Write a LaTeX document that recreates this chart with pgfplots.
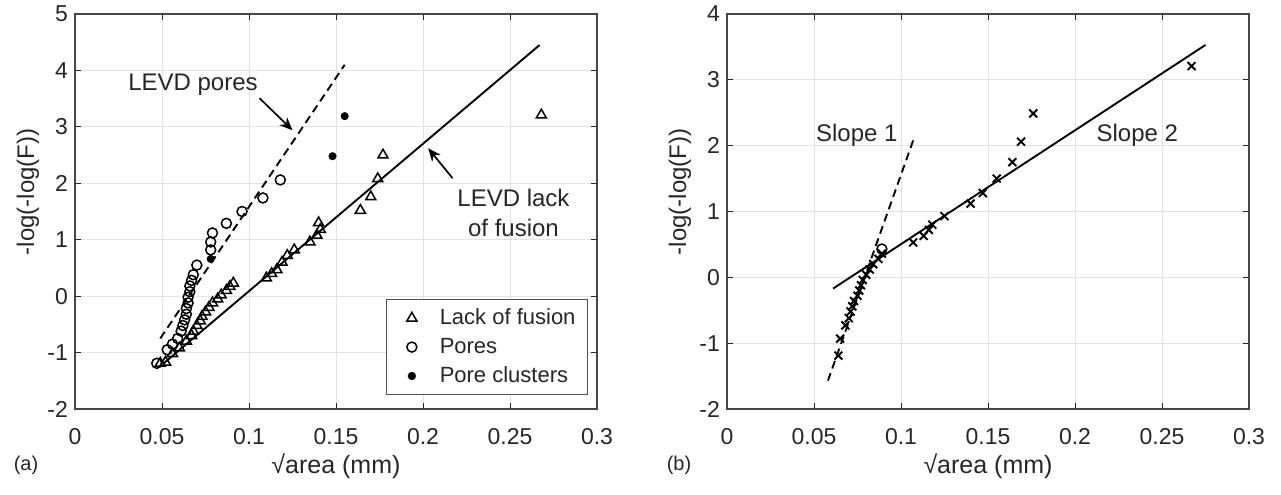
\documentclass[border=0pt]{standalone}
\usepackage{fontspec}
\setmainfont{Liberation Sans}
\usepackage{pgfplots}
\pgfplotsset{compat=1.18}
\usetikzlibrary{arrows.meta}
\definecolor{txt}{RGB}{38,38,38}
\definecolor{gridc}{RGB}{226,226,226}
\pgfplotsset{
 myax/.style={
  scale only axis, width=261pt, height=197.5pt,
  xmin=0, xmax=0.3, xtick={0,0.05,0.1,0.15,0.2,0.25,0.3},
  xticklabels={0,0.05,0.1,0.15,0.2,0.25,0.3},
  grid=major, major grid style={gridc, line width=0.5pt},
  axis line style={txt!85, line width=0.6pt},
  tick style={txt, line width=0.5pt}, tick align=inside, major tick length=3pt,
  ticklabel style={font=\fontsize{11.5}{13}\selectfont, text=txt},
  xticklabel style={yshift=-6.3pt},
  xlabel={√area (mm)},
  ylabel={-log(-log(F))},
  every axis x label/.style={at={(axis description cs:0.5,-0.144)}, anchor=center, font=\fontsize{12.5}{14}\selectfont, text=txt},
  every axis y label/.style={at={(axis description cs:-0.09,0.55)}, anchor=center, rotate=90, font=\fontsize{12}{14}\selectfont, text=txt},
 }
}
\begin{document}
\begin{tikzpicture}
\useasboundingbox (0,0) rectangle (640.5pt,247pt);
% ---------------- (a) ----------------
\begin{axis}[myax, at={(37.5pt,42.5pt)}, anchor=south west,
  ymin=-2, ymax=5, ytick={-2,-1,0,1,2,3,4,5}, yticklabels={-2,-1,0,1,2,3,4,5},
  legend style={at={(axis description cs:1,0)}, anchor=south east, xshift=-4.5pt, yshift=7pt,
    draw=txt!80, line width=0.5pt, font=\fontsize{11}{12.5}\selectfont, text=txt,
    row sep=1.2pt, inner xsep=4pt, inner ysep=2.5pt},
  legend cell align=left,
  legend image code/.code={\path[draw=none,fill=none] (0cm,0cm) -- (0.72cm,0cm); \draw[#1] plot coordinates {(0.3cm,0cm)};},
]
\addplot[only marks, mark=triangle, mark size=2.9pt, line width=0.75pt, black] coordinates {
(0.049,-1.19) (0.052,-1.17) (0.056,-1.02) (0.060,-0.92) (0.064,-0.80) (0.067,-0.70)
(0.068,-0.62) (0.070,-0.52) (0.072,-0.44) (0.073,-0.36) (0.075,-0.28) (0.077,-0.20)
(0.079,-0.12) (0.082,-0.05) (0.084,0.02) (0.087,0.10) (0.089,0.17) (0.091,0.23)
(0.110,0.32) (0.113,0.40) (0.116,0.47) (0.119,0.60) (0.122,0.72) (0.126,0.82)
(0.135,0.96) (0.139,1.08) (0.141,1.18) (0.140,1.30) (0.164,1.52) (0.170,1.76)
(0.174,2.08) (0.177,2.50) (0.268,3.21)
};
\addlegendentry{Lack of fusion}
\addplot[only marks, mark=o, mark size=2.5pt, line width=0.75pt, black] coordinates {
(0.047,-1.19) (0.053,-0.95) (0.056,-0.85) (0.059,-0.75) (0.061,-0.62) (0.062,-0.52)
(0.063,-0.42) (0.064,-0.32) (0.064,-0.22) (0.065,-0.12) (0.065,-0.02) (0.066,0.08)
(0.066,0.18) (0.067,0.28) (0.068,0.38) (0.070,0.55) (0.078,0.82) (0.078,0.96)
(0.079,1.12) (0.087,1.29) (0.096,1.50) (0.108,1.74) (0.118,2.06)
};
\addlegendentry{Pores}
\addplot[only marks, mark=*, mark size=1.8pt, black] coordinates {
(0.078,0.66) (0.148,2.48) (0.155,3.19)
};
\addlegendentry{Pore clusters}
\addplot[black, line width=0.95pt, dash pattern=on 4pt off 2.5pt, forget plot] coordinates {(0.049,-0.75) (0.155,4.10)};
\addplot[black, line width=0.95pt, forget plot] coordinates {(0.051,-1.19) (0.267,4.45)};
\node[font=\fontsize{12}{14}\selectfont, text=txt] at (axis cs:0.0678,3.74) {LEVD pores};
\draw[-{Stealth[length=6.5pt,width=5.5pt]}, line width=0.85pt, black] (axis cs:0.106,3.51) -- (axis cs:0.125,2.94);
\node[font=\fontsize{12}{15}\selectfont, text=txt, align=center] at (axis cs:0.252,1.47) {LEVD lack\\of fusion};
\draw[-{Stealth[length=6.5pt,width=5.5pt]}, line width=0.85pt, black] (axis cs:0.217,2.09) -- (axis cs:0.203,2.62);
\end{axis}
\node[font=\fontsize{10}{12}\selectfont, text=txt] at (13pt,14.5pt) {(a)};
% ---------------- (b) ----------------
\begin{axis}[myax, at={(363.5pt,42.5pt)}, anchor=south west,
  ymin=-2, ymax=4, ytick={-2,-1,0,1,2,3,4}, yticklabels={-2,-1,0,1,2,3,4},
]
\addplot[only marks, mark=x, mark size=2.8pt, line width=0.95pt, black] coordinates {
(0.064,-1.19) (0.065,-0.93) (0.068,-0.73) (0.070,-0.62) (0.071,-0.52) (0.072,-0.44)
(0.073,-0.36) (0.075,-0.28) (0.076,-0.20) (0.077,-0.12) (0.078,-0.04) (0.080,0.04)
(0.082,0.12) (0.084,0.20) (0.087,0.28) (0.089,0.36) (0.107,0.53) (0.113,0.63)
(0.116,0.72) (0.118,0.80) (0.125,0.93) (0.140,1.12) (0.147,1.28) (0.155,1.50)
(0.164,1.75) (0.169,2.06) (0.176,2.49) (0.267,3.21)
};
\addplot[only marks, mark=o, mark size=2.5pt, line width=0.75pt, black] coordinates {(0.089,0.43)};
\addplot[black, line width=0.95pt, dash pattern=on 4pt off 2.5pt] coordinates {(0.058,-1.57) (0.107,2.08)};
\addplot[black, line width=0.95pt] coordinates {(0.061,-0.17) (0.275,3.53)};
\node[font=\fontsize{12}{14}\selectfont, text=txt] at (axis cs:0.0746,2.16) {Slope 1};
\node[font=\fontsize{12}{14}\selectfont, text=txt] at (axis cs:0.2358,2.16) {Slope 2};
\end{axis}
\node[font=\fontsize{10}{12}\selectfont, text=txt] at (339.5pt,14.5pt) {(b)};
\end{tikzpicture}
\end{document}
